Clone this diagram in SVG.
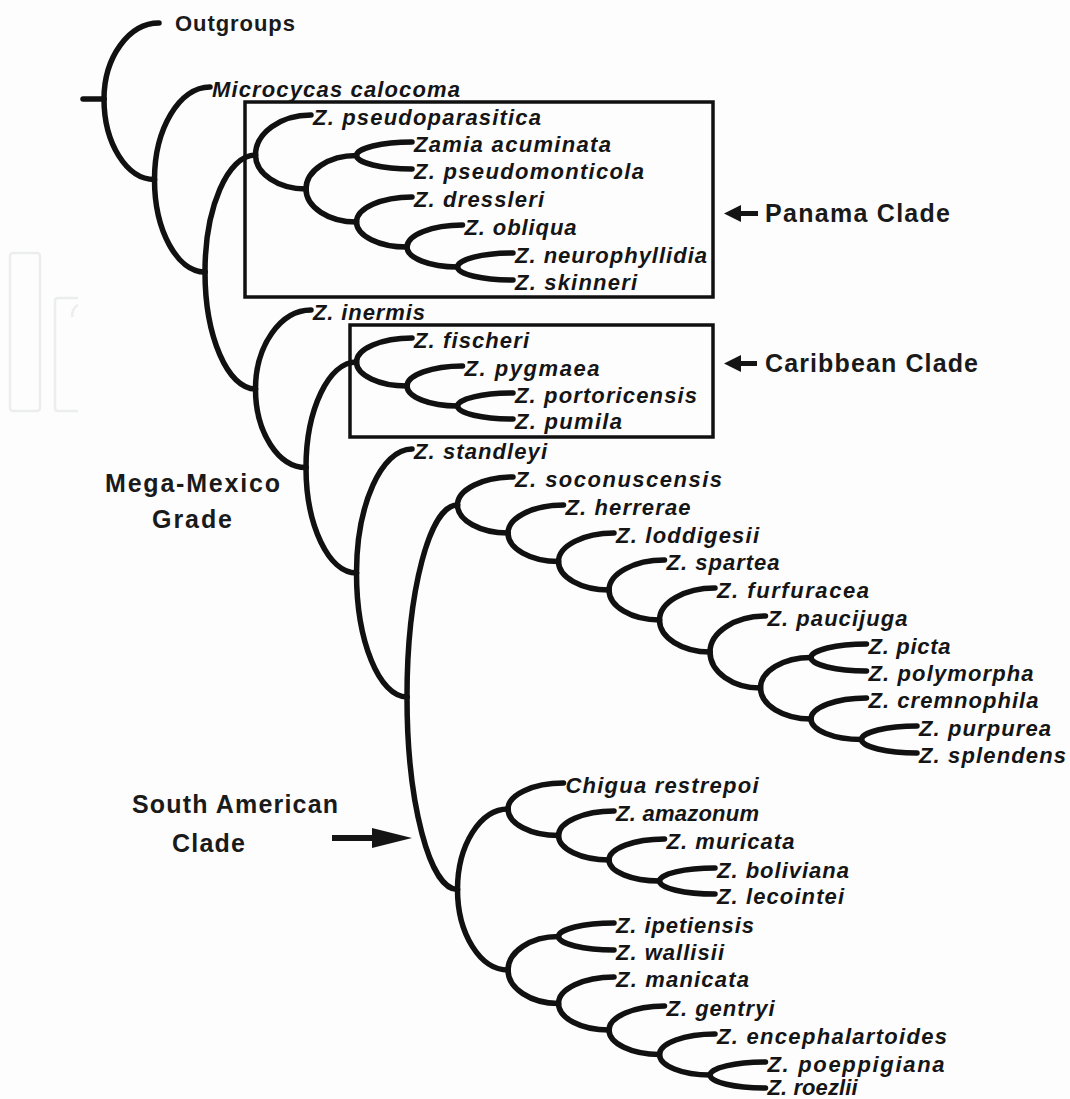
<svg xmlns="http://www.w3.org/2000/svg" width="1070" height="1099" viewBox="0 0 1070 1099">
<style>
.br{fill:none;stroke:#111;stroke-width:5.5;stroke-linecap:round;stroke-linejoin:round}
.sp{font-family:"Liberation Sans",Arial,sans-serif;font-style:italic;font-weight:bold;font-size:22px;fill:#151515}
.lb{font-family:"Liberation Sans",Arial,sans-serif;font-weight:bold;font-size:25px;fill:#1a1a1a}
.og{font-family:"Liberation Sans",Arial,sans-serif;font-weight:bold;font-size:22px;fill:#1a1a1a}
.box{fill:none;stroke:#111;stroke-width:3.5}
.ar{fill:#151515}
.wm{fill:none;stroke:#eceded;stroke-width:2.5}
</style>
<rect width="1070" height="1099" fill="#fdfdfd"/>
<g id="watermark">
<rect class="wm" x="10" y="253" width="30" height="158" rx="3"/>
<path class="wm" d="M78 298H58Q55 298 55 301V408Q55 411 58 411H78"/>
<path class="wm" d="M72 317Q72 308 78 305"/>
</g>
<g id="connectors">
<path class="br" d="M83 99H104"/>
<path class="br" d="M104 99C104 57.2 128.8 23 159 23"/>
<path class="br" d="M104 99C104 143.3 126.7 179.5 154.5 179.5"/>
<path class="br" d="M154.5 179.5C154.5 128.6 179.5 87 210 87"/>
<path class="br" d="M154.5 179.5C154.5 230.4 177.2 272 205 272"/>
<path class="br" d="M205 272C205 207.7 227.7 155 255.5 155"/>
<path class="br" d="M205 272C205 336.4 227.7 389 255.5 389"/>
<path class="br" d="M255.5 155C255.5 133 280.5 115 311 115"/>
<path class="br" d="M255.5 155C255.5 173.7 278.2 189 306 189"/>
<path class="br" d="M306 189C306 170.6 328.7 155.5 356.5 155.5"/>
<path class="br" d="M306 189C306 207.2 328.7 222 356.5 222"/>
<path class="br" d="M356.5 155.5C356.5 148.1 381.5 142 412 142"/>
<path class="br" d="M356.5 155.5C356.5 162.9 381.5 169 412 169"/>
<path class="br" d="M356.5 222C356.5 208.3 381.5 197 412 197"/>
<path class="br" d="M356.5 222C356.5 235.8 379.2 247 407 247"/>
<path class="br" d="M407 247C407 234.9 432 225 462.5 225"/>
<path class="br" d="M407 247C407 258 429.7 267 457.5 267"/>
<path class="br" d="M457.5 267C457.5 259.3 482.5 253 513 253"/>
<path class="br" d="M457.5 267C457.5 274.2 482.5 280 513 280"/>
<path class="br" d="M255.5 389C255.5 345.6 280.5 310 311 310"/>
<path class="br" d="M255.5 389C255.5 432.2 278.2 467.5 306 467.5"/>
<path class="br" d="M306 467.5C306 409.5 328.7 362 356.5 362"/>
<path class="br" d="M306 467.5C306 525.5 328.7 573 356.5 573"/>
<path class="br" d="M356.5 362C356.5 348.8 381.5 338 412 338"/>
<path class="br" d="M356.5 362C356.5 375.2 379.2 386 407 386"/>
<path class="br" d="M407 386C407 375 432 366 462.5 366"/>
<path class="br" d="M407 386C407 397 429.7 406 457.5 406"/>
<path class="br" d="M457.5 406C457.5 398.9 482.5 393 513 393"/>
<path class="br" d="M457.5 406C457.5 413.2 482.5 419 513 419"/>
<path class="br" d="M356.5 573C356.5 504.8 381.5 449 412 449"/>
<path class="br" d="M356.5 573C356.5 641.2 379.2 697 407 697"/>
<path class="br" d="M407 697C407 591.4 429.7 505 457.5 505"/>
<path class="br" d="M407 697C407 802.9 429.7 889.5 457.5 889.5"/>
<path class="br" d="M457.5 505C457.5 489.6 482.5 477 513 477"/>
<path class="br" d="M457.5 505C457.5 520.4 480.2 533 508 533"/>
<path class="br" d="M508 533C508 517.6 533 505 563.5 505"/>
<path class="br" d="M508 533C508 548.7 530.7 561.5 558.5 561.5"/>
<path class="br" d="M558.5 561.5C558.5 545.8 583.5 533 614 533"/>
<path class="br" d="M558.5 561.5C558.5 577.2 581.2 590 609 590"/>
<path class="br" d="M609 590C609 573.5 634 560 664.5 560"/>
<path class="br" d="M609 590C609 606.5 631.7 620 659.5 620"/>
<path class="br" d="M659.5 620C659.5 602.4 684.5 588 715 588"/>
<path class="br" d="M659.5 620C659.5 637.6 682.2 652 710 652"/>
<path class="br" d="M710 652C710 632.2 735 616 765.5 616"/>
<path class="br" d="M710 652C710 671.8 732.7 688 760.5 688"/>
<path class="br" d="M760.5 688C760.5 671.2 783.2 657.5 811 657.5"/>
<path class="br" d="M760.5 688C760.5 705 783.2 719 811 719"/>
<path class="br" d="M811 657.5C811 650.1 836 644 866.5 644"/>
<path class="br" d="M811 657.5C811 664.9 836 671 866.5 671"/>
<path class="br" d="M811 719C811 707.5 836 698 866.5 698"/>
<path class="br" d="M811 719C811 730.3 833.7 739.5 861.5 739.5"/>
<path class="br" d="M861.5 739.5C861.5 732.1 886.5 726 917 726"/>
<path class="br" d="M861.5 739.5C861.5 746.9 886.5 753 917 753"/>
<path class="br" d="M457.5 889.5C457.5 845.2 480.2 809 508 809"/>
<path class="br" d="M457.5 889.5C457.5 933.8 480.2 970 508 970"/>
<path class="br" d="M508 809C508 794.7 533 783 563.5 783"/>
<path class="br" d="M508 809C508 823.6 530.7 835.5 558.5 835.5"/>
<path class="br" d="M558.5 835.5C558.5 822 583.5 811 614 811"/>
<path class="br" d="M558.5 835.5C558.5 849 581.2 860 609 860"/>
<path class="br" d="M609 860C609 848.5 634 839 664.5 839"/>
<path class="br" d="M609 860C609 871.6 631.7 881 659.5 881"/>
<path class="br" d="M659.5 881C659.5 873.9 684.5 868 715 868"/>
<path class="br" d="M659.5 881C659.5 888.2 684.5 894 715 894"/>
<path class="br" d="M508 970C508 951.6 530.7 936.5 558.5 936.5"/>
<path class="br" d="M508 970C508 988.4 530.7 1003.5 558.5 1003.5"/>
<path class="br" d="M558.5 936.5C558.5 929.1 583.5 923 614 923"/>
<path class="br" d="M558.5 936.5C558.5 943.9 583.5 950 614 950"/>
<path class="br" d="M558.5 1003.5C558.5 988.9 583.5 977 614 977"/>
<path class="br" d="M558.5 1003.5C558.5 1018.1 581.2 1030 609 1030"/>
<path class="br" d="M609 1030C609 1016.8 634 1006 664.5 1006"/>
<path class="br" d="M609 1030C609 1043.5 631.7 1054.5 659.5 1054.5"/>
<path class="br" d="M659.5 1054.5C659.5 1043.2 684.5 1034 715 1034"/>
<path class="br" d="M659.5 1054.5C659.5 1065.8 682.2 1075 710 1075"/>
<path class="br" d="M710 1075C710 1067.9 735 1062 765.5 1062"/>
<path class="br" d="M710 1075C710 1082.2 735 1088 765.5 1088"/>
</g>
<g id="panama-box"><rect class="box" x="245" y="102" width="468" height="195"/></g>
<g id="caribbean-box"><rect class="box" x="350" y="325" width="363" height="112"/></g>
<g id="outgroups"><text class="og" x="175" y="31" textLength="120">Outgroups</text></g>
<g id="microcycas"><text class="sp" x="212" y="97" textLength="248">Microcycas calocoma</text></g>
<g id="pseudoparasitica"><text class="sp" x="313" y="125" textLength="228">Z. pseudoparasitica</text></g>
<g id="acuminata"><text class="sp" x="414" y="152" textLength="197">Zamia acuminata</text></g>
<g id="pseudomonticola"><text class="sp" x="414" y="179" textLength="230">Z. pseudomonticola</text></g>
<g id="dressleri"><text class="sp" x="414" y="207" textLength="130">Z. dressleri</text></g>
<g id="obliqua"><text class="sp" x="464.5" y="235" textLength="112">Z. obliqua</text></g>
<g id="neurophyllidia"><text class="sp" x="515" y="263" textLength="192">Z. neurophyllidia</text></g>
<g id="skinneri"><text class="sp" x="515" y="290" textLength="122">Z. skinneri</text></g>
<g id="inermis"><text class="sp" x="313" y="320" textLength="112">Z. inermis</text></g>
<g id="fischeri"><text class="sp" x="414" y="348" textLength="115">Z. fischeri</text></g>
<g id="pygmaea"><text class="sp" x="464.5" y="376" textLength="135">Z. pygmaea</text></g>
<g id="portoricensis"><text class="sp" x="515" y="403" textLength="182">Z. portoricensis</text></g>
<g id="pumila"><text class="sp" x="515" y="429" textLength="107">Z. pumila</text></g>
<g id="standleyi"><text class="sp" x="414" y="459" textLength="133">Z. standleyi</text></g>
<g id="soconuscensis"><text class="sp" x="515" y="487" textLength="207">Z. soconuscensis</text></g>
<g id="herrerae"><text class="sp" x="565.5" y="515" textLength="125">Z. herrerae</text></g>
<g id="loddigesii"><text class="sp" x="616" y="543" textLength="143">Z. loddigesii</text></g>
<g id="spartea"><text class="sp" x="666.5" y="570" textLength="113">Z. spartea</text></g>
<g id="furfuracea"><text class="sp" x="717" y="598" textLength="152">Z. furfuracea</text></g>
<g id="paucijuga"><text class="sp" x="767.5" y="626" textLength="140">Z. paucijuga</text></g>
<g id="picta"><text class="sp" x="868.5" y="654" textLength="82">Z. picta</text></g>
<g id="polymorpha"><text class="sp" x="868.5" y="681" textLength="165">Z. polymorpha</text></g>
<g id="cremnophila"><text class="sp" x="868.5" y="708" textLength="170">Z. cremnophila</text></g>
<g id="purpurea"><text class="sp" x="919" y="736" textLength="132">Z. purpurea</text></g>
<g id="splendens"><text class="sp" x="919" y="763" textLength="147">Z. splendens</text></g>
<g id="chigua"><text class="sp" x="565.5" y="793" textLength="193">Chigua restrepoi</text></g>
<g id="amazonum"><text class="sp" x="616" y="821" textLength="143">Z. amazonum</text></g>
<g id="muricata"><text class="sp" x="666.5" y="849" textLength="128">Z. muricata</text></g>
<g id="boliviana"><text class="sp" x="717" y="878" textLength="132">Z. boliviana</text></g>
<g id="lecointei"><text class="sp" x="717" y="904" textLength="127">Z. lecointei</text></g>
<g id="ipetiensis"><text class="sp" x="616" y="933" textLength="138">Z. ipetiensis</text></g>
<g id="wallisii"><text class="sp" x="616" y="960" textLength="108">Z. wallisii</text></g>
<g id="manicata"><text class="sp" x="616" y="987" textLength="133">Z. manicata</text></g>
<g id="gentryi"><text class="sp" x="666.5" y="1016" textLength="108">Z. gentryi</text></g>
<g id="encephalartoides"><text class="sp" x="717" y="1044" textLength="230">Z. encephalartoides</text></g>
<g id="poeppigiana"><text class="sp" x="767.5" y="1072" textLength="177">Z. poeppigiana</text></g>
<g id="roezlii"><text class="sp" x="767.5" y="1095" textLength="90">Z. roezlii</text></g>
<g id="panama-label">
<path class="ar" d="M724 213.5L741 205V211H758V216H741V222Z"/>
<text class="lb" x="765" y="222" textLength="185">Panama Clade</text>
</g>
<g id="caribbean-label">
<path class="ar" d="M724 363.5L741 355V361H757V366H741V372Z"/>
<text class="lb" x="765" y="372" textLength="213">Caribbean Clade</text>
</g>
<g id="mega-mexico-label">
<text class="lb" x="105" y="492" textLength="175">Mega-Mexico</text>
<text class="lb" x="152" y="528" textLength="80">Grade</text>
</g>
<g id="south-american-label">
<text class="lb" x="132" y="813" textLength="206">South American</text>
<text class="lb" x="172" y="852" textLength="73">Clade</text>
<path class="ar" d="M332 835H372V828L412 838L372 848V841H332Z"/>
</g>
</svg>
